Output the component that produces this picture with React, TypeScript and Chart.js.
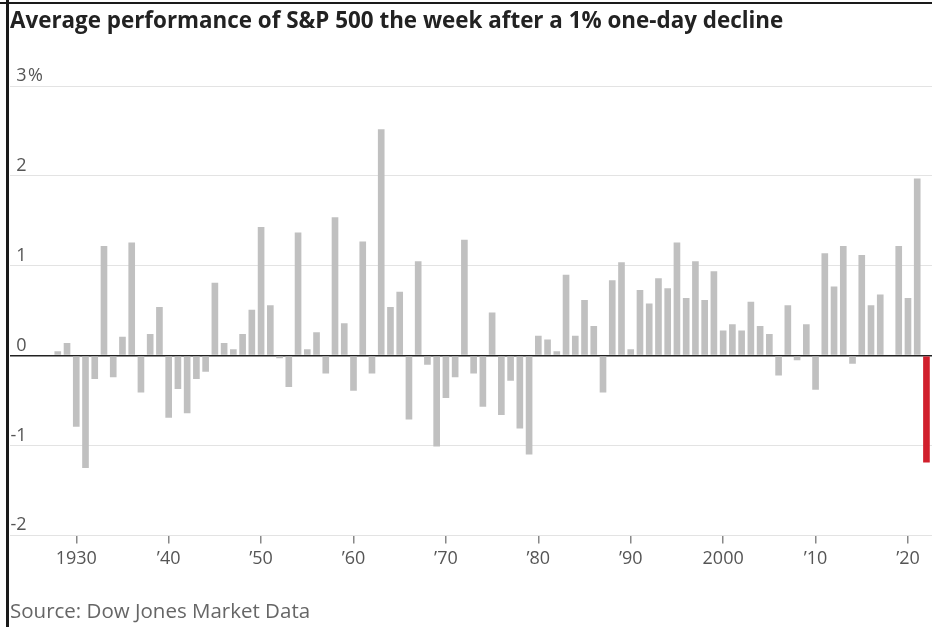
import React, { useEffect, useRef } from 'react';
import { Chart, registerables } from 'chart.js';

Chart.register(...registerables);

const years = [
  1928, 1929, 1930, 1931, 1932, 1933, 1934, 1935, 1936, 1937, 1938, 1939,
  1940, 1941, 1942, 1943, 1944, 1945, 1946, 1947, 1948, 1949,
  1950, 1951, 1952, 1953, 1954, 1955, 1956, 1957, 1958, 1959,
  1960, 1961, 1962, 1963, 1964, 1965, 1966, 1967, 1968, 1969,
  1970, 1971, 1972, 1973, 1974, 1975, 1976, 1977, 1978, 1979,
  1980, 1981, 1982, 1983, 1984, 1985, 1986, 1987, 1988, 1989,
  1990, 1991, 1992, 1993, 1994, 1995, 1996, 1997, 1998, 1999,
  2000, 2001, 2002, 2003, 2004, 2005, 2006, 2007, 2008, 2009,
  2010, 2011, 2012, 2013, 2014, 2015, 2016, 2017, 2018, 2019,
  2020, 2021, 2022,
];

const values = [
  0.05, 0.14, -0.79, -1.25, -0.26, 1.22, -0.24, 0.21, 1.26, -0.41, 0.24, 0.54,
  -0.69, -0.37, -0.64, -0.26, -0.18, 0.81, 0.14, 0.07, 0.24, 0.51,
  1.43, 0.56, -0.03, -0.35, 1.37, 0.07, 0.26, -0.2, 1.54, 0.36,
  -0.39, 1.27, -0.2, 2.52, 0.54, 0.71, -0.71, 1.05, -0.1, -1.01,
  -0.47, -0.24, 1.29, -0.2, -0.57, 0.48, -0.66, -0.28, -0.81, -1.1,
  0.22, 0.18, 0.05, 0.9, 0.22, 0.62, 0.33, -0.41, 0.84, 1.04,
  0.07, 0.73, 0.58, 0.86, 0.75, 1.26, 0.64, 1.05, 0.62, 0.94,
  0.28, 0.35, 0.28, 0.6, 0.33, 0.24, -0.22, 0.56, -0.05, 0.35,
  -0.38, 1.14, 0.77, 1.22, -0.09, 1.12, 0.56, 0.68, 0.0, 1.22,
  0.64, 1.97, -1.19,
];

const highlightYear = 2022;

const yTickValues = [-2, -1, 0, 1, 2, 3];
const yTickLabels = ['-2', '-1', '0', '1', '2', '3'];
const yUnit = '%';

const xTickValues = [1930, 1940, 1950, 1960, 1970, 1980, 1990, 2000, 2010, 2020];
const xTickLabels = ['1930', '\u201940', '\u201950', '\u201960', '\u201970', '\u201980', '\u201990', '2000', '\u201910', '\u201920'];

const titleText = 'Average performance of S&P 500 the week after a 1% one-day decline';
const sourceText = 'Source: Dow Jones Market Data';

const FONT = '"Open Sans", "Liberation Sans", Arial, sans-serif';
const GRAY_BAR = '#c0c0c0';
const RED_BAR = '#d11f2c';

const yLabelPlugin = {
  id: 'yLabels',
  afterDatasetsDraw(chart: any) {
    const { ctx, chartArea } = chart;
    const y = chart.scales.y;
    ctx.save();
    ctx.font = '18px ' + FONT;
    ctx.fillStyle = '#555';
    ctx.textBaseline = 'alphabetic';
    yTickValues.forEach((v, i) => {
      const py = y.getPixelForValue(v) - 5;
      ctx.textAlign = 'right';
      ctx.fillText(yTickLabels[i], chartArea.left + 16.5, py);
      if (i === yTickValues.length - 1) {
        ctx.textAlign = 'left';
        ctx.fillText(yUnit, chartArea.left + 18, py);
      }
    });
    ctx.restore();
  },
};

export default function App() {
  const ref = useRef<HTMLCanvasElement>(null);

  useEffect(() => {
    if (!ref.current) return;
    const chart = new Chart(ref.current, {
      type: 'bar',
      data: {
        datasets: [
          {
            data: years.map((yr, i) => ({ x: yr, y: values[i] })),
            backgroundColor: years.map((yr) => (yr === highlightYear ? RED_BAR : GRAY_BAR)),
            borderWidth: 0,
            categoryPercentage: 0.8,
            barPercentage: 0.9,
          },
        ],
      },
      options: {
        animation: false,
        responsive: true,
        maintainAspectRatio: false,
        layout: { padding: { left: 10, right: 0, top: 86, bottom: 52 } },
        plugins: {
          legend: { display: false },
          tooltip: { enabled: false },
          title: { display: false },
        },
        scales: {
          x: {
            type: 'linear',
            min: 1922.83,
            max: 2022.6,
            offset: false,
            afterBuildTicks: (scale: any) => {
              scale.ticks = xTickValues.map((v) => ({ value: v }));
            },
            ticks: {
              autoSkip: false,
              maxRotation: 0,
              padding: 5,
              color: '#555',
              font: { family: FONT, size: 18 },
              callback: (v: any) => {
                const idx = xTickValues.indexOf(Number(v));
                return idx >= 0 ? xTickLabels[idx] : '';
              },
            },
            grid: {
              offset: false,
              drawOnChartArea: false,
              drawTicks: true,
              tickLength: 8,
              color: '#888',
              lineWidth: 1.5,
            },
            border: { display: false },
          },
          y: {
            min: -2,
            max: 3,
            afterBuildTicks: (scale: any) => {
              scale.ticks = yTickValues.map((v) => ({ value: v }));
            },
            ticks: { display: false },
            grid: {
              drawTicks: false,
              color: (c: any) => (c.tick && c.tick.value === 0 ? '#222' : '#e3e3e3'),
              lineWidth: (c: any) => (c.tick && c.tick.value === 0 ? 1.6 : 1),
            },
            border: { display: false },
          },
        },
      },
      plugins: [yLabelPlugin],
    } as any);
    return () => chart.destroy();
  }, []);

  return (
    <div style={{ position: 'absolute', left: 0, top: 0, width: 932, height: 627, background: '#fff', overflow: 'hidden' }}>
      <div style={{ position: 'absolute', left: 0, top: 0, width: 932, height: 627 }}>
        <canvas ref={ref} />
      </div>
      <div style={{ position: 'absolute', left: 0, top: 2, width: 932, height: 2, background: '#1a1a1a' }} />
      <div style={{ position: 'absolute', left: 6, top: 0, width: 2.5, height: 627, background: '#1a1a1a' }} />
      <div
        style={{
          position: 'absolute',
          left: 10,
          top: 7.6,
          font: 'bold 22.4px ' + FONT,
          lineHeight: '24px',
          color: '#222',
          whiteSpace: 'nowrap',
        }}
      >
        {titleText}
      </div>
      <div
        style={{
          position: 'absolute',
          left: 10,
          top: 598,
          font: '20.5px ' + FONT,
          lineHeight: '24px',
          color: '#666',
          whiteSpace: 'nowrap',
        }}
      >
        {sourceText}
      </div>
    </div>
  );
}
